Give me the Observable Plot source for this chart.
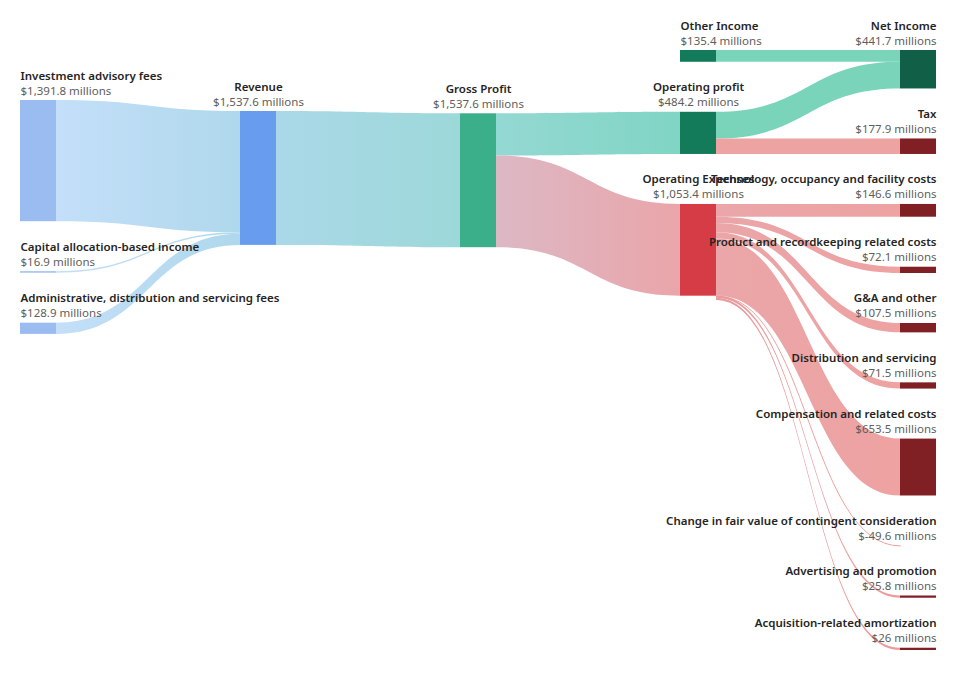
<!DOCTYPE html>
<html>
<head>
<meta charset="utf-8">
<script src="https://cdn.jsdelivr.net/npm/d3@7"></script>
<script src="https://cdn.jsdelivr.net/npm/@observablehq/plot@0.6"></script>
<style>
  html, body { margin: 0; padding: 0; background: #fff; }
  #chart { width: 956px; height: 676px; }
</style>
</head>
<body>
<div id="chart"></div>
<script>
// ---------------- DATA ----------------
const nodeNames = [
  "Investment advisory fees",
  "Capital allocation-based income",
  "Administrative, distribution and servicing fees",
  "Revenue",
  "Gross Profit",
  "Other Income",
  "Operating profit",
  "Operating Expenses",
  "Net Income",
  "Tax",
  "Technology, occupancy and facility costs",
  "Product and recordkeeping related costs",
  "G&A and other",
  "Distribution and servicing",
  "Compensation and related costs",
  "Change in fair value of contingent consideration",
  "Advertising and promotion",
  "Acquisition-related amortization"
];
const nodeValues = [1391.8, 16.9, 128.9, 1537.6, 1537.6, 135.4, 484.2, 1053.4,
  441.7, 177.9, 146.6, 72.1, 107.5, 71.5, 653.5, -49.6, 25.8, 26];
const nodeColumns = [0, 0, 0, 1, 2, 3, 3, 3, 4, 4, 4, 4, 4, 4, 4, 4, 4, 4];

const linkSources = [
  "Investment advisory fees", "Capital allocation-based income",
  "Administrative, distribution and servicing fees",
  "Revenue", "Gross Profit", "Gross Profit",
  "Other Income", "Operating profit", "Operating profit",
  "Operating Expenses", "Operating Expenses", "Operating Expenses", "Operating Expenses",
  "Operating Expenses", "Operating Expenses", "Operating Expenses", "Operating Expenses"
];
const linkTargets = [
  "Revenue", "Revenue", "Revenue",
  "Gross Profit", "Operating profit", "Operating Expenses",
  "Net Income", "Net Income", "Tax",
  "Technology, occupancy and facility costs", "Product and recordkeeping related costs",
  "G&A and other", "Distribution and servicing", "Compensation and related costs",
  "Change in fair value of contingent consideration", "Advertising and promotion",
  "Acquisition-related amortization"
];
const linkValues = [1391.8, 16.9, 128.9, 1537.6, 484.2, 1053.4, 135.4, 306.3, 177.9,
  146.6, 72.1, 107.5, 71.5, 653.5, -49.6, 25.8, 26];

// ---------------- STYLES ----------------
const nodeColors = {
  "Investment advisory fees": "#9bbcf0",
  "Capital allocation-based income": "#9bbcf0",
  "Administrative, distribution and servicing fees": "#9bbcf0",
  "Revenue": "#679cee",
  "Gross Profit": "#3bae8a",
  "Other Income": "#137b59",
  "Operating profit": "#137b59",
  "Operating Expenses": "#d63c45",
  "Net Income": "#115f47"
};
const defaultNodeColor = "#802024";
const linkGradients = [
  ["#c4dff9", "#afd8ec"], ["#c4dff9", "#afd8ec"], ["#c4dff9", "#afd8ec"],
  ["#aad8e8", "#9dd8d9"], ["#94d8d3", "#80d5c4"], ["#dcb8c5", "#eaa5a9"],
  ["#79d4ba", "#79d4ba"], ["#79d4ba", "#79d4ba"], ["#eea3a3", "#eea3a3"],
  ["#eaa6a8", "#eea2a2"], ["#eaa6a8", "#eea2a2"], ["#eaa6a8", "#eea2a2"], ["#eaa6a8", "#eea2a2"],
  ["#eaa6a8", "#eea2a2"], ["#eaa6a8", "#eea2a2"], ["#e89a9c", "#ec9c9c"], ["#e89a9c", "#ec9c9c"]
];

// ---------------- LAYOUT ----------------
const W = 956, H = 676;
const mTop = 50, mBottom = 26, mLeft = 20, mRight = 56;
const nodeWidthPx = 36, colSpacingPx = 220, padPx = 50;
const columnOffsetPx = [50, 61, 63.3, 0, 0];
const plotH = H - mTop - mBottom;
const nCols = 5;

const nodes = nodeNames.map((name, i) => ({
  name, value: nodeValues[i], col: nodeColumns[i], size: Math.max(0, nodeValues[i]),
  color: nodeColors[name] || defaultNodeColor, out: [], inc: []
}));
const byName = new Map(nodes.map(d => [d.name, d]));

let D = 0;
for (let c = 0; c < nCols; c++) {
  const colNodes = nodes.filter(d => d.col === c);
  const S = d3.sum(colNodes, d => d.size);
  const need = S / (1 - (colNodes.length - 1) * padPx / plotH);
  D = Math.max(D, need);
}
const k = plotH / D;
const P = padPx / k;
for (let c = 0; c < nCols; c++) {
  let y = columnOffsetPx[c] / k;
  for (const n of nodes.filter(d => d.col === c)) {
    n.y0 = y; n.y1 = y + n.size; y = n.y1 + P;
  }
}
const wUnits = nodeWidthPx / colSpacingPx;

const links = linkSources.map((s, i) => ({
  i, source: byName.get(s), target: byName.get(linkTargets[i]),
  value: linkValues[i], size: Math.max(0, linkValues[i])
}));
for (const l of links) { l.source.out.push(l); l.target.inc.push(l); }
for (const n of nodes) {
  let y = n.y0;
  for (const l of n.out.slice().sort((a, b) => a.target.y0 - b.target.y0)) {
    l.sy0 = y; l.sy1 = y + l.size; y = l.sy1;
  }
  y = n.y0;
  for (const l of n.inc.slice().sort((a, b) => a.source.y0 - b.source.y0)) {
    l.ty0 = y; l.ty1 = y + l.size; y = l.ty1;
  }
}

const fmt = v => "$" + v.toLocaleString("en-US", {maximumFractionDigits: 1}) + " millions";
const labels = nodes.map(n => {
  const anchor = n.inc.length === 0 ? "start" : n.out.length === 0 ? "end" : "middle";
  const x = anchor === "start" ? n.col : anchor === "end" ? n.col + wUnits : n.col + wUnits / 2;
  return {x, y: n.y0, anchor, name: n.name, val: fmt(n.value)};
});

// ---------------- MARKS ----------------
const defsMark = () => {
  const defs = d3.create("svg:defs");
  links.forEach((l, i) => {
    const g = defs.append("linearGradient").attr("id", "lg" + i)
      .attr("x1", "0").attr("x2", "1").attr("y1", "0").attr("y2", "0");
    g.append("stop").attr("offset", "0%").attr("stop-color", linkGradients[i][0]);
    g.append("stop").attr("offset", "100%").attr("stop-color", linkGradients[i][1]);
  });
  return defs.node();
};

const linkMarks = links.map((l, i) => {
  if (l.value > 0) {
    const pts = [
      {x: l.source.col + wUnits, a: l.sy0, b: l.sy1},
      {x: l.target.col, a: l.ty0, b: l.ty1}
    ];
    return Plot.area(pts, {x1: "x", y1: "a", y2: "b", fill: `url(#lg${i})`, curve: "bump-x"});
  } else {
    const pts = [
      {x: l.source.col + wUnits, a: l.sy0},
      {x: l.target.col, a: l.ty0}
    ];
    return Plot.line(pts, {x: "x", y: "a", stroke: linkGradients[i][1], strokeWidth: 1, curve: "bump-x"});
  }
});

const textMarks = [];
for (const anchor of ["start", "middle", "end"]) {
  const data = labels.filter(d => d.anchor === anchor);
  textMarks.push(Plot.text(data, {x: "x", y: "y", text: "name", textAnchor: anchor,
    lineAnchor: "bottom", dy: -21, fontWeight: 600, fill: "#252423", fontSize: 11.5}));
  textMarks.push(Plot.text(data, {x: "x", y: "y", text: "val", textAnchor: anchor,
    lineAnchor: "bottom", dy: -6, fill: "#605e5c", fontSize: 11.5}));
}

const chart = Plot.plot({
  width: W, height: H,
  marginTop: mTop, marginBottom: mBottom, marginLeft: mLeft, marginRight: mRight,
  x: {domain: [0, nCols - 1], axis: null},
  y: {domain: [0, D], range: [mTop, H - mBottom], axis: null},
  color: {type: "identity"},
  style: {fontFamily: "'Noto Sans', 'Open Sans', sans-serif", fontSize: "11.5px", background: "#fff", overflow: "visible"},
  marks: [
    defsMark,
    ...linkMarks,
    Plot.rect(nodes, {x1: "col", x2: d => d.col + wUnits, y1: "y0", y2: "y1", fill: "color"}),
    ...textMarks
  ]
});
document.getElementById("chart").append(chart);
</script>
</body>
</html>
